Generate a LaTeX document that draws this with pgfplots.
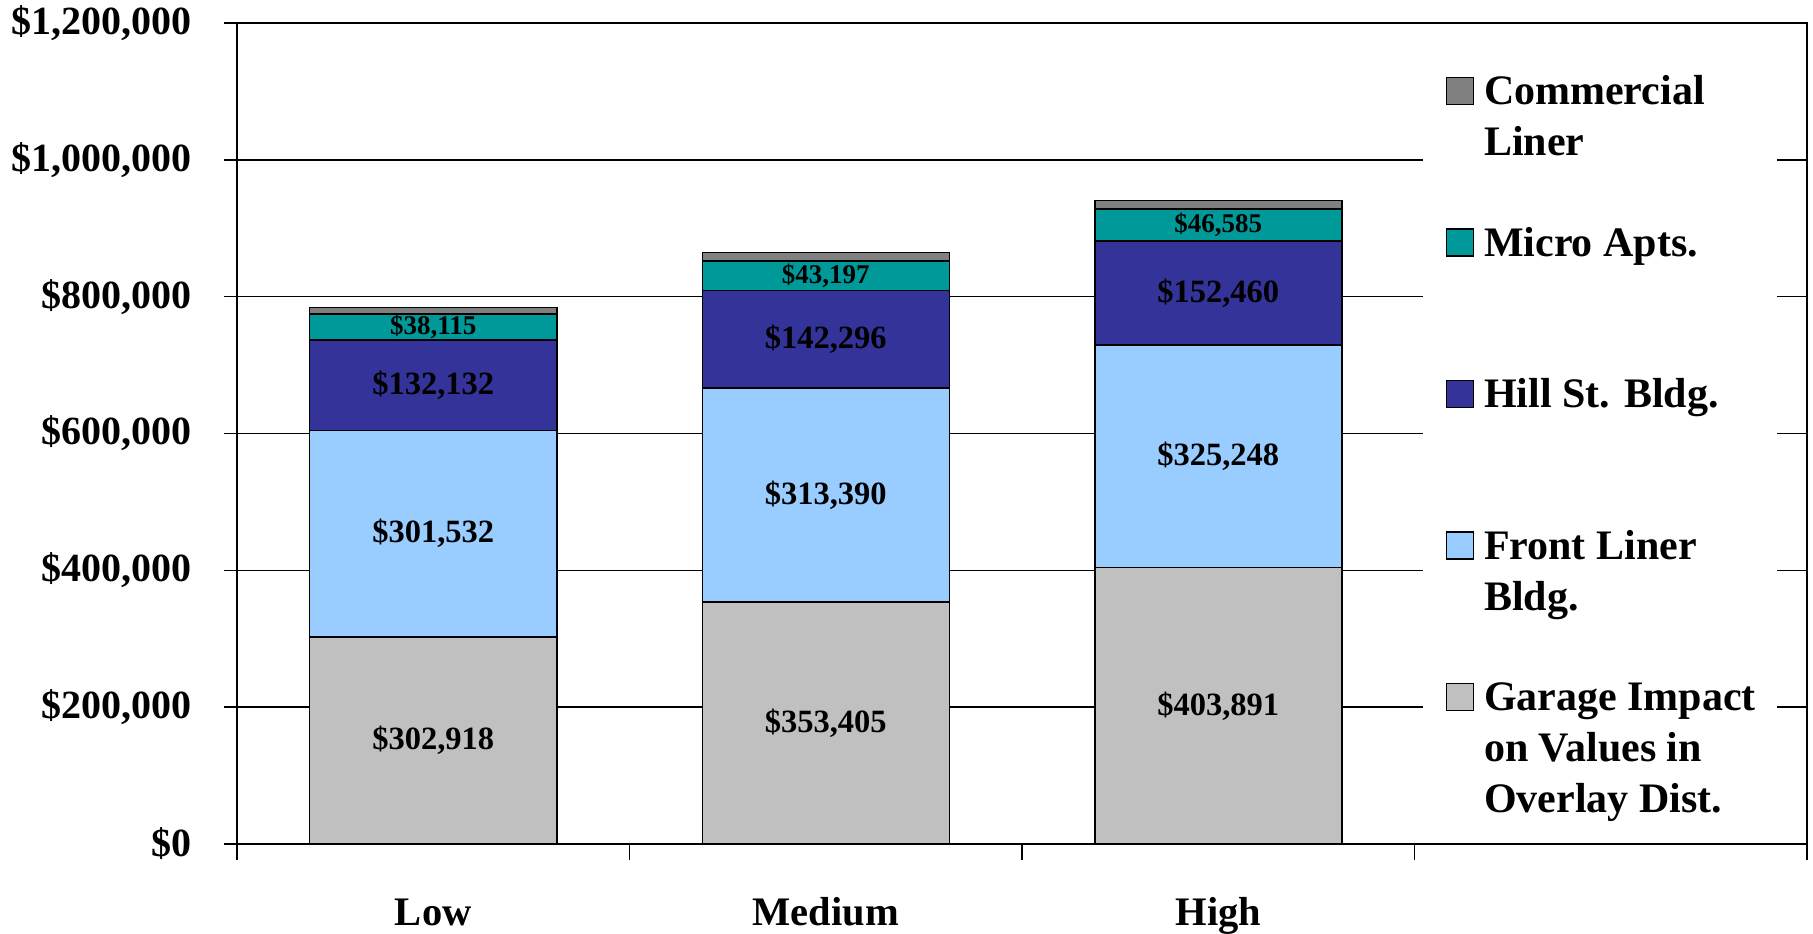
\documentclass[border=0pt]{standalone}
\usepackage{pgfplots}
\pgfplotsset{compat=1.18}
\usepackage{pgfplotstable}
\usepackage{fontspec}
\setmainfont{Liberation Serif}
\definecolor{cComm}{HTML}{808080}
\definecolor{cMicro}{HTML}{009999}
\definecolor{cHill}{HTML}{333399}
\definecolor{cFront}{HTML}{99CCFF}
\definecolor{cGarage}{HTML}{C0C0C0}
\pgfplotstableread{
x garage front hill micro comm
0 302918 301532 132132 38115 9800
1 353405 313390 142296 43197 12000
2 403891 325248 152460 46585 12500
}\data
\pgfplotsset{
  segcenter/.style={
    point meta=explicit,
    nodes near coords={\$\pgfmathprintnumber[assume math mode=true,fixed,precision=0,1000 sep={,}]{\pgfplotspointmeta}},
    every node near coord/.append style={anchor=center, font=#1, text=black, inner sep=0pt},
  },
}
\newcommand{\lentry}[1]{\parbox[t]{106pt}{\strut #1}}
\begin{document}
\begin{tikzpicture}
\begin{axis}[
  name=ax,
  scale only axis, width=628pt, height=328.4pt,
  ybar stacked, bar width=98.8pt,
  xmin=-0.5, xmax=3.5, ymin=0, ymax=1200000,
  enlarge x limits=false,
  xtick={0,1,2}, xticklabels={Low,Medium,High},
  minor xtick={-0.5,0.5,1.5,2.5,3.5},
  ytick={0,200000,400000,600000,800000,1000000,1200000},
  scaled y ticks=false,
  yticklabel={\$\pgfmathprintnumber[assume math mode=true,fixed,precision=0,1000 sep={,}]{\tick}},
  tick align=outside, tick pos=left,
  major tick length=5.2pt, minor tick length=6.4pt,
  major x tick style={draw=none},
  minor x tick style={black, line width=0.6pt},
  major y tick style={black, line width=0.6pt},
  ymajorgrids, major grid style={black, line width=0.6pt},
  axis line style={black, line width=0.8pt},
  yticklabel style={anchor=east, inner sep=0pt, xshift=-12.8pt, font=\fontsize{16}{19}\selectfont\bfseries},
  xticklabel style={anchor=base, inner sep=0pt, yshift=-27.2pt, font=\fontsize{16.2}{19}\selectfont\bfseries},
  legend style={at={(0.7548,0.9688)}, anchor=north west, draw=none, fill=white,
    inner xsep=9.2pt, inner ysep=6pt, row sep={60.6pt,between origins},
    font=\fontsize{16.8}{20.4}\selectfont\bfseries,
    cells={anchor=base west, inner sep=0pt},
    /tikz/every odd column/.append style={column sep=2pt}},
  legend image code/.code={\draw[#1, line width=0.6pt] (0pt,0.2pt) rectangle (10.8pt,11pt);},
  reverse legend,
]
\addplot[fill=cGarage, draw=black, line width=0.6pt, segcenter={\fontsize{13}{15}\selectfont\bfseries}] table[x=x, y=garage, meta=garage] {\data};
\addlegendentry{\lentry{\mbox{Garage Impact}\\\mbox{on Values in}\\\mbox{Overlay Dist.}}}
\addplot[fill=cFront, draw=black, line width=0.6pt, segcenter={\fontsize{13}{15}\selectfont\bfseries}] table[x=x, y=front, meta=front] {\data};
\addlegendentry{\lentry{\mbox{Front Liner}\\\mbox{Bldg.}}}
\addplot[fill=cHill, draw=black, line width=0.6pt, segcenter={\fontsize{13}{15}\selectfont\bfseries}] table[x=x, y=hill, meta=hill] {\data};
\addlegendentry{\lentry{\mbox{Hill St. Bldg.}}}
\addplot[fill=cMicro, draw=black, line width=0.6pt, segcenter={\fontsize{10.8}{12}\selectfont\bfseries}] table[x=x, y=micro, meta=micro] {\data};
\addlegendentry{\lentry{\mbox{Micro Apts.}}}
\addplot[fill=cComm, draw=black, line width=0.6pt] table[x=x, y=comm] {\data};
\addlegendentry{\lentry{\mbox{Commercial}\\\mbox{Liner}}}
\end{axis}
\pgfresetboundingbox
\path ([shift={(-94.8pt,-35.6pt)}]ax.south west) rectangle ([shift={(2.4pt,9.2pt)}]ax.north east);
\end{tikzpicture}
\end{document}
